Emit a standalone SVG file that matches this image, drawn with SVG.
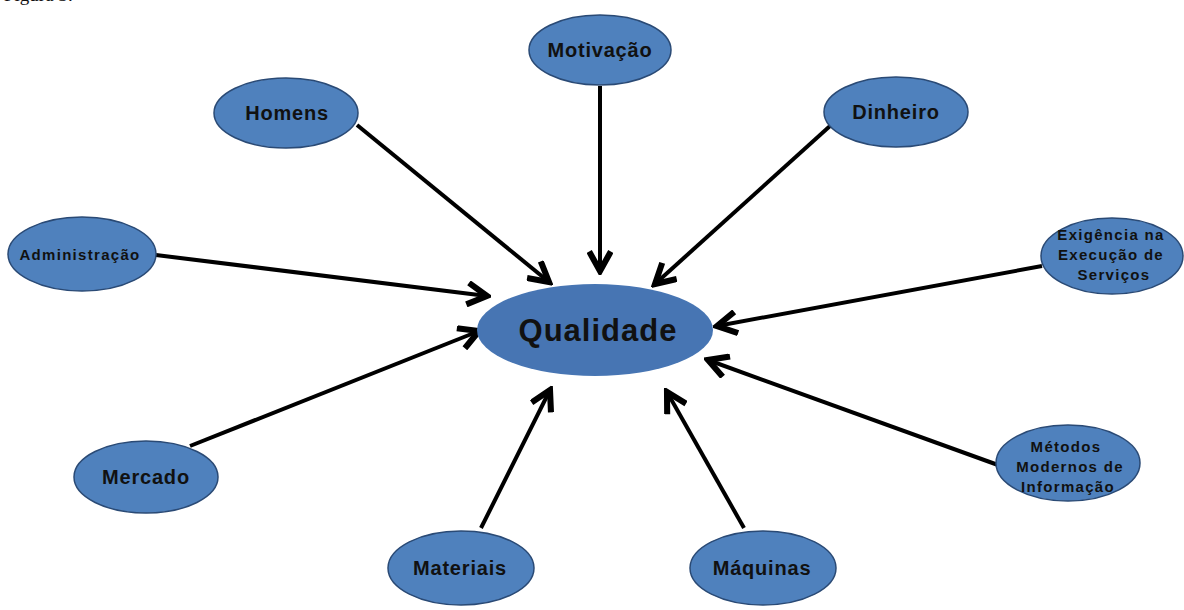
<svg xmlns="http://www.w3.org/2000/svg" width="1184" height="610" viewBox="0 0 1184 610">
<style>
.n{fill:#4F81BD;stroke:#2A4A75;stroke-width:1.5}
.c{fill:#4775B3;stroke:none}
.t{font-family:"Liberation Sans",Arial,sans-serif;font-weight:bold;fill:#111;text-anchor:middle}
.m{font-size:20px;letter-spacing:0.8px}
.s{font-size:15px;letter-spacing:1.3px}
.l{stroke:#000;stroke-width:4;fill:none;marker-end:url(#ah)}
</style>
<defs>
<marker id="ah" viewBox="0 0 12 12" refX="10" refY="6" markerWidth="6.5" markerHeight="6.5" markerUnits="strokeWidth" orient="auto">
<path d="M1,1 L10,6 L1,11" fill="none" stroke="#000" stroke-width="2.8" stroke-linejoin="miter"/>
</marker>
</defs>
<rect width="1184" height="610" fill="#fff"/>
<text x="4" y="1" font-family="Liberation Serif,serif" font-size="19" fill="#111">Figura 3:</text>
<g id="connectors">
<line class="l" x1="600" y1="86" x2="600" y2="271"/>
<line class="l" x1="357" y1="125" x2="549" y2="282"/>
<line class="l" x1="830" y1="126" x2="655" y2="284"/>
<line class="l" x1="156" y1="255" x2="487" y2="296"/>
<line class="l" x1="1042" y1="266" x2="717" y2="326"/>
<line class="l" x1="998" y1="465" x2="708" y2="360"/>
<line class="l" x1="190" y1="446" x2="479" y2="331"/>
<line class="l" x1="481" y1="528" x2="550" y2="390"/>
<line class="l" x1="744" y1="528" x2="667" y2="392"/>
</g>
<g id="qualidade"><ellipse class="c" cx="595" cy="330" rx="118" ry="46"/><text class="t" x="598" y="341" font-size="31" letter-spacing="1">Qualidade</text></g>
<g id="motivacao"><ellipse class="n" cx="600" cy="50" rx="71" ry="35"/><text class="t m" x="600" y="57">Motivação</text></g>
<g id="homens"><ellipse class="n" cx="286" cy="113" rx="72" ry="35"/><text class="t m" x="287" y="120" letter-spacing="1.5">Homens</text></g>
<g id="dinheiro"><ellipse class="n" cx="896" cy="112" rx="72" ry="35"/><text class="t m" x="896" y="119">Dinheiro</text></g>
<g id="administracao"><ellipse class="n" cx="82" cy="254" rx="74" ry="37"/><text class="t s" x="80" y="260" letter-spacing="0.6">Administração</text></g>
<g id="exigencia"><ellipse class="n" cx="1112" cy="256" rx="71" ry="38"/><text class="t s" letter-spacing="1.6"><tspan x="1111" y="240">Exigência na</tspan><tspan x="1111" y="260">Execução de</tspan><tspan x="1114" y="280">Serviços</tspan></text></g>
<g id="metodos"><ellipse class="n" cx="1068" cy="463" rx="72" ry="38"/><text class="t s" letter-spacing="1.5"><tspan x="1066" y="452">Métodos</tspan><tspan x="1070" y="472">Modernos de</tspan><tspan x="1068" y="492">Informação</tspan></text></g>
<g id="mercado"><ellipse class="n" cx="146" cy="477" rx="72" ry="36"/><text class="t m" x="146" y="484">Mercado</text></g>
<g id="materiais"><ellipse class="n" cx="461" cy="568" rx="73" ry="37"/><text class="t m" x="460" y="575">Materiais</text></g>
<g id="maquinas"><ellipse class="n" cx="763" cy="568" rx="73" ry="37"/><text class="t m" x="762" y="575">Máquinas</text></g>
</svg>
